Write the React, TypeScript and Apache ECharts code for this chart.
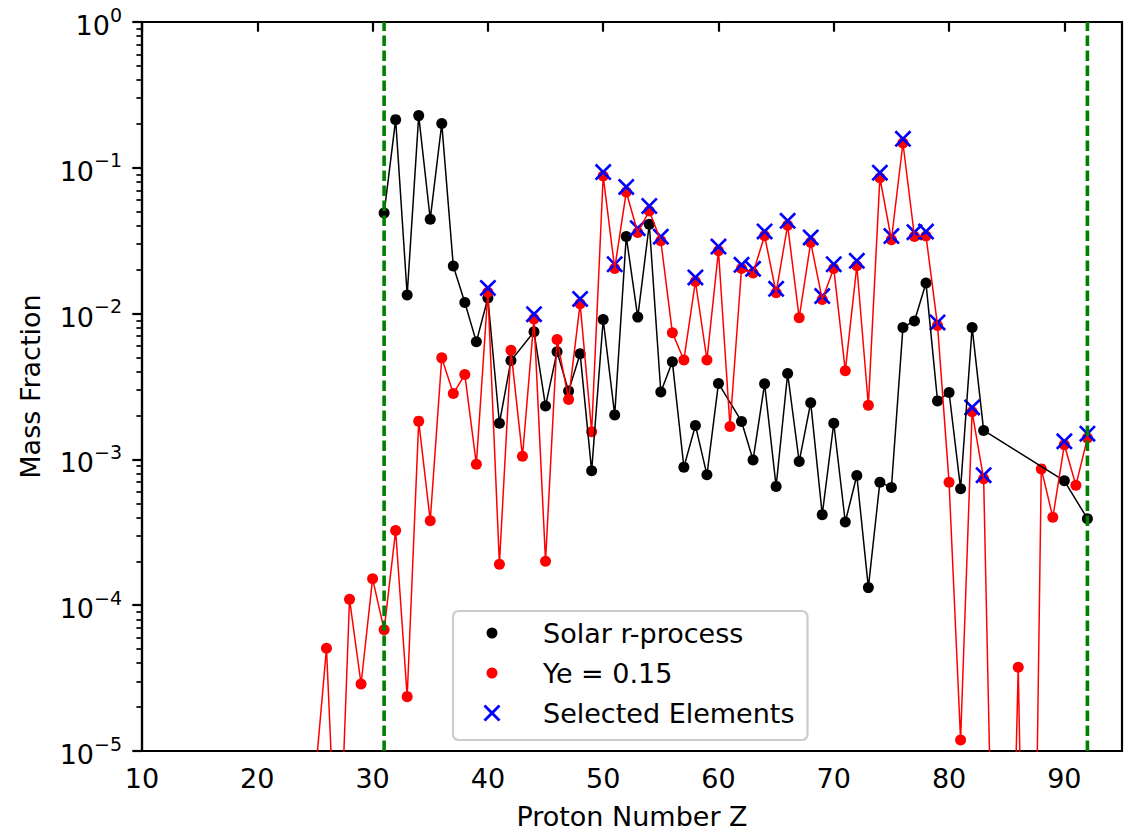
import React, { useEffect, useRef } from 'react';
import * as echarts from 'echarts';

// ---- data ----
const solarZ = [31, 32, 33, 34, 35, 36, 37, 38, 39, 40, 41, 42, 44, 45, 46, 47, 48, 49, 50, 51, 52, 53, 54, 55, 56, 57, 58, 59, 60, 62, 63, 64, 65, 66, 67, 68, 69, 70, 71, 72, 73, 74, 75, 76, 77, 78, 79, 80, 81, 82, 83, 90, 92];
const solarMass = [0.0489, 0.214, 0.0134, 0.228, 0.0444, 0.201, 0.0212, 0.0119, 0.0064, 0.0128, 0.00177, 0.00476, 0.0075, 0.00232, 0.00548, 0.00294, 0.00531, 0.000835, 0.0091, 0.00202, 0.0338, 0.00946, 0.041, 0.0029, 0.00467, 0.000885, 0.00171, 0.000784, 0.00332, 0.00182, 0.00099, 0.0033, 0.000653, 0.00388, 0.000967, 0.00245, 0.000418, 0.00177, 0.000372, 0.000776, 0.000132, 0.000698, 0.000642, 0.00804, 0.0089, 0.0162, 0.00252, 0.00288, 0.000629, 0.00804, 0.00158, 0.000713, 0.000392];

const yeZ = [25, 26, 27, 28, 29, 30, 31, 32, 33, 34, 35, 36, 37, 38, 39, 40, 41, 42, 43, 44, 45, 46, 47, 48, 49, 50, 51, 52, 53, 54, 55, 56, 57, 58, 59, 60, 61, 62, 63, 64, 65, 66, 67, 68, 69, 70, 71, 72, 73, 74, 75, 76, 77, 78, 79, 80, 81, 82, 83, 84, 85, 86, 87, 88, 89, 90, 91, 92];
const yeMass = [6.3e-6, 5.07e-5, 8e-7, 1.1e-4, 2.88e-5, 1.52e-4, 6.78e-5, 3.25e-4, 2.36e-5, 1.83e-3, 3.8e-4, 4.97e-3, 2.83e-3, 3.82e-3, 9.27e-4, 0.014, 1.91e-4, 5.6e-3, 1.05e-3, 9.2e-3, 2.0e-4, 6.65e-3, 2.58e-3, 0.0117, 1.55e-3, 0.0878, 0.0204, 0.0682, 0.036, 0.0506, 0.0316, 7.4e-3, 4.81e-3, 0.0166, 4.81e-3, 0.027, 1.68e-3, 0.0204, 0.019, 0.0342, 0.0139, 0.0404, 9.36e-3, 0.0308, 0.0125, 0.0204, 4.05e-3, 0.0213, 2.35e-3, 0.0856, 0.0321, 0.148, 0.0338, 0.0341, 8.3e-3, 6.98e-4, 1.19e-5, 2.12e-3, 7.36e-4, 1.5e-7, 2e-8, 3.75e-5, 2e-9, 8.61e-4, 4.01e-4, 1.26e-3, 6.64e-4, 1.4e-3];

const selectedZ = [40, 44, 48, 50, 51, 52, 53, 54, 55, 58, 60, 62, 63, 64, 65, 66, 68, 69, 70, 72, 74, 75, 76, 77, 78, 79, 82, 83, 90, 92];
const selectedMass = [0.015, 0.0099, 0.0126, 0.0935, 0.0218, 0.0739, 0.0385, 0.0547, 0.0337, 0.0177, 0.0288, 0.0216, 0.0203, 0.0366, 0.0148, 0.0433, 0.0333, 0.0132, 0.0218, 0.023, 0.0925, 0.034, 0.158, 0.0362, 0.0365, 0.0087, 0.00227, 0.00078, 0.00133, 0.0015];

const boundaryZ = [31, 92];
const xTicks = [10, 20, 30, 40, 50, 60, 70, 80, 90];
const yMin = 1e-5;
const yMax = 1;
const minorMultipliers = [2, 3, 4, 5, 6, 7, 8, 9];
const decadeExps = [-5, -4, -3, -2, -1];

const FONT = 'DejaVu Sans';
const X_SYMBOL = 'path://M0 2.2L2.2 0L10 7.8L17.8 0L20 2.2L12.2 10L20 17.8L17.8 20L10 12.2L2.2 20L0 17.8L7.8 10Z';
const DOT_ICON = 'path://M0 0M20 20M10 4.5A5.5 5.5 0 0 1 10 15.5A5.5 5.5 0 0 1 10 4.5Z';
const X_ICON = 'path://M0 0M20 20M1.5 3.5L3.5 1.5L10 8L16.5 1.5L18.5 3.5L12 10L18.5 16.5L16.5 18.5L10 12L3.5 18.5L1.5 16.5L8 10Z';

const minorTickLogs: number[] = [];
decadeExps.forEach((e) => minorMultipliers.forEach((m) => minorTickLogs.push(Math.log10(m) + e)));

const pairs = (xs: number[], ys: number[]) => xs.map((x, i) => [x, ys[i]]);

export default function App() {
  const ref = useRef<HTMLDivElement>(null);
  useEffect(() => {
    const chart = echarts.init(ref.current!, null, { renderer: 'svg' });
    const axisLine = { show: true, lineStyle: { color: '#000', width: 2.2 } };
    const boundarySeries = boundaryZ.map((z, i) => ({
      name: 'boundary' + i,
      type: 'line',
      data: [[z, yMin], [z, yMax]],
      symbol: 'none',
      silent: true,
      clip: true,
      lineStyle: { color: '#008000', width: 3.6, type: [10.5, 4.5], cap: 'butt' },
    }));
    const option: any = {
      animation: false,
      backgroundColor: '#fff',
      textStyle: { fontFamily: FONT },
      grid: { left: 142, right: 8, top: 22, bottom: 81, show: true, borderColor: '#000', borderWidth: 2.2, containLabel: false },
      legend: {
        data: [
          { name: 'Solar r-process', icon: DOT_ICON },
          { name: 'Ye = 0.15', icon: DOT_ICON },
          { name: 'Selected Elements', icon: X_ICON },
        ],
        orient: 'vertical',
        left: 453,
        top: 611,
        itemWidth: 20,
        itemHeight: 20,
        itemGap: 10,
        padding: [7, 13, 12, 29],
        selectedMode: false,
        textStyle: { fontSize: 27, fontFamily: FONT, color: '#000', lineHeight: 30, padding: [0, 0, 0, 36] },
        backgroundColor: 'rgba(255,255,255,0.8)',
        borderColor: '#cccccc',
        borderWidth: 2.2,
        borderRadius: 5.5,
      },
      xAxis: {
        type: 'value',
        min: 10,
        max: 95,
        position: 'bottom',
        axisLine,
        axisTick: { show: true, inside: false, length: 9.7, customValues: xTicks, lineStyle: { color: '#000', width: 2.2 } },
        axisLabel: { customValues: xTicks, fontSize: 27, fontFamily: FONT, color: '#000', margin: 14 },
        splitLine: { show: false },
        name: 'Proton Number Z',
        nameLocation: 'middle',
        nameGap: 52,
        nameTextStyle: { fontSize: 27, fontFamily: FONT, color: '#000' },
      },
      yAxis: [
        {
          type: 'log',
          logBase: 10,
          min: yMin,
          max: yMax,
          position: 'left',
          axisLine,
          axisTick: { show: true, inside: false, length: 9.7, lineStyle: { color: '#000', width: 2.2 } },
          axisLabel: {
            margin: 20,
            formatter: (v: number) => {
              const e = Math.round(Math.log10(v));
              const s = e < 0 ? '\u2212' + -e : String(e);
              return '{b|10}{s|' + s + '}';
            },
            rich: {
              b: { fontSize: 27, fontFamily: FONT, color: '#000', lineHeight: 34, verticalAlign: 'bottom' },
              s: { fontSize: 19, fontFamily: FONT, color: '#000', lineHeight: 19, verticalAlign: 'top' },
            },
          },
          splitLine: { show: false },
          minorTick: { show: false },
          name: 'Mass Fraction',
          nameLocation: 'middle',
          nameGap: 98,
          nameTextStyle: { fontSize: 27, fontFamily: FONT, color: '#000' },
        },
        {
          type: 'value',
          min: -5,
          max: 0,
          position: 'left',
          offset: 0,
          axisLine: { show: false },
          axisTick: { show: true, inside: false, length: 5.6, customValues: minorTickLogs, lineStyle: { color: '#000', width: 1.7 } },
          axisLabel: { show: false },
          splitLine: { show: false },
        },
      ],
      series: [
        {
          name: 'solarLine',
          type: 'line',
          data: pairs(solarZ, solarMass),
          symbol: 'none',
          lineStyle: { color: '#000', width: 1.5 },
          clip: true,
          silent: true,
        },
        {
          name: 'Solar r-process',
          type: 'scatter',
          data: pairs(solarZ, solarMass),
          symbol: 'circle',
          symbolSize: 11,
          itemStyle: { color: '#000', opacity: 1 },
          clip: true,
        },
        {
          name: 'yeLine',
          type: 'line',
          data: pairs(yeZ, yeMass),
          symbol: 'none',
          lineStyle: { color: '#ff0000', width: 1.5 },
          clip: true,
          silent: true,
        },
        {
          name: 'Ye = 0.15',
          type: 'scatter',
          data: pairs(yeZ, yeMass),
          symbol: 'circle',
          symbolSize: 11,
          itemStyle: { color: '#ff0000', opacity: 1 },
          clip: true,
        },
        {
          name: 'Selected Elements',
          type: 'scatter',
          data: pairs(selectedZ, selectedMass),
          symbol: X_SYMBOL,
          symbolSize: 17,
          itemStyle: { color: '#0000ff', opacity: 1 },
          clip: true,
        },
        ...boundarySeries,
      ],
    };
    chart.setOption(option);
    return () => chart.dispose();
  }, []);
  return <div ref={ref} style={{ position: 'fixed', left: 0, top: 0, width: 1130, height: 835, background: '#fff' }} />;
}
